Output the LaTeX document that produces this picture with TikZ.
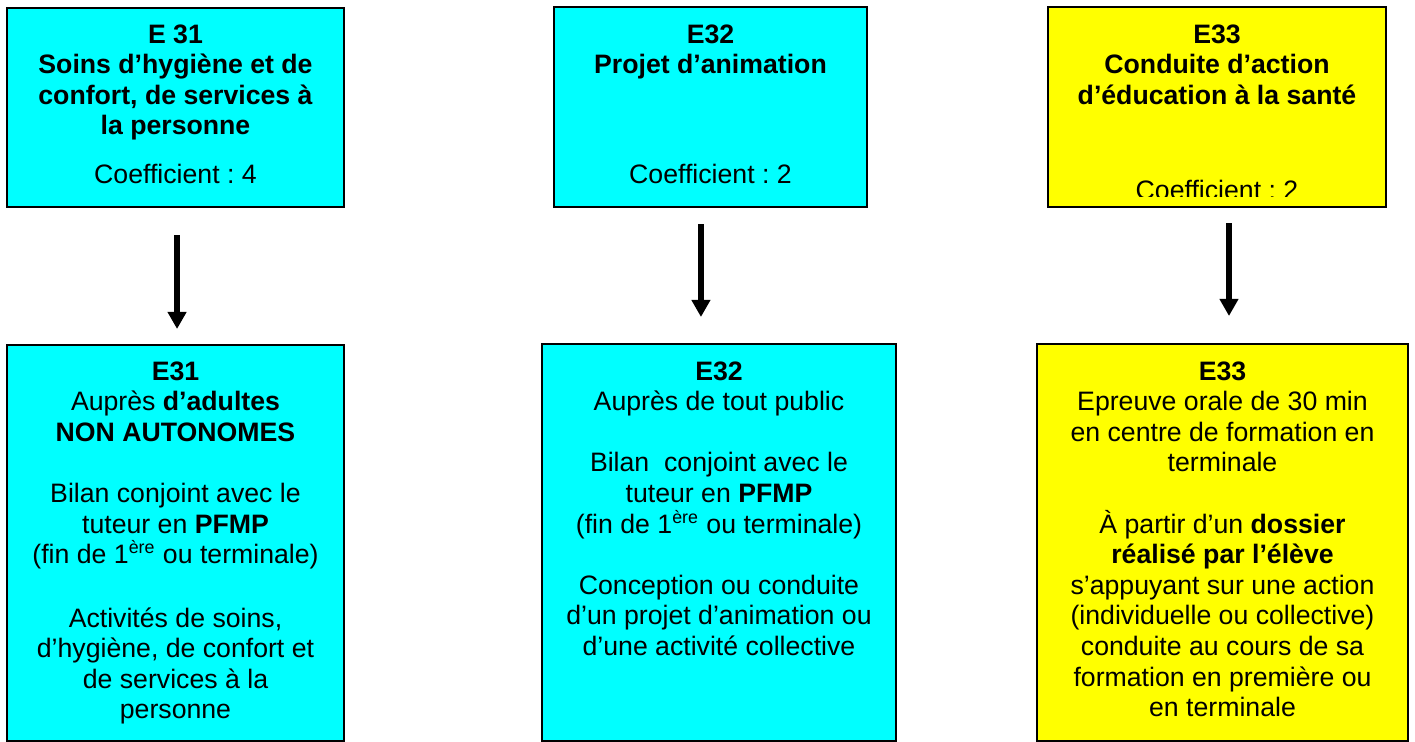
\documentclass[tikz,border=0pt]{standalone}
\usepackage{fontspec}
\setmainfont{Liberation Sans}
\usetikzlibrary{arrows.meta}
\definecolor{cy}{HTML}{00FFFF}
\definecolor{ye}{HTML}{FFFF00}
\frenchspacing
\newcommand{\cadre}[6]{
\node[cadre,fill=#6,minimum width={(#4-#2)*0.45pt},minimum height={(#5-#3)*0.45pt}] (#1) at ({(#2+#4)/2},{(#3+#5)/2}) {};
}
\newcommand{\vide}{\\[13.77pt]}

\begin{document}
\begin{tikzpicture}[x=0.45pt,y=-0.45pt,
cadre/.style={draw=black,line width=0.9pt,inner sep=0pt},
texte/.style={align=center,inner sep=0pt,anchor=base,font=\fontsize{12}{13.77}\selectfont},
bloc/.style={texte,anchor=north},
titre/.style={bloc,font=\fontsize{12}{13.77}\selectfont\bfseries},
fleche/.style={line width=2.7pt,-{Triangle[width=8.1pt,length=7.7pt]}}]
\useasboundingbox (0,0) rectangle (1415,742);
\cadre{t1}{7}{8}{344}{207}{cy};
\cadre{t2}{554}{7}{867}{207}{cy};
\cadre{t3}{1048}{7}{1386}{207}{ye};
\cadre{b1}{7}{345}{344}{741}{cy};
\cadre{b2}{542}{344}{896}{741}{cy};
\cadre{b3}{1037}{344}{1408}{741}{ye};
\node[titre] (e31) at (175.5,24) {E 31\\Soins d’hygiène et de\\confort, de services à\\la personne};
\node[texte] (c31) at (175.5,183) {Coefficient : 4};
\node[titre] (e32) at (710.5,24) {E32\\Projet d’animation};
\node[texte] (c32) at (710.5,183) {Coefficient : 2};
\node[titre] (e33) at (1217,24) {E33\\Conduite d’action\\d’éducation à la santé};
\begin{scope}
\clip (t3.north west) rectangle (1386,196);
\node[texte] (c33) at (1217,199) {Coefficient : 2};
\end{scope}
\node[bloc] (d31) at (175.5,361) {\textbf{E31}\\Auprès \textbf{d’adultes}\\\textbf{NON AUTONOMES}\vide
Bilan conjoint avec le\\tuteur en \textbf{PFMP}\\(fin de 1\textsuperscript{ère} ou terminale)\\[14.8pt]
Activités de soins,\\d’hygiène, de confort et\\de services à la\\personne};
\node[bloc] (d32) at (719,361) {\textbf{E32}\\Auprès de tout public\vide
Bilan\ \ conjoint avec le\\tuteur en \textbf{PFMP}\\(fin de 1\textsuperscript{ère} ou terminale)\vide
Conception ou conduite\\d’un projet d’animation ou\\d’une activité collective};
\node[bloc] (d33) at (1222.5,361) {\textbf{E33}\\Epreuve orale de 30 min\\en centre de formation en\\terminale\vide
À partir d’un \textbf{dossier}\\\textbf{réalisé par l’élève}\\s’appuyant sur une action\\(individuelle ou collective)\\conduite au cours de sa\\formation en première ou\\en terminale};
\draw[fleche,shorten <=12.15pt,shorten >=6.75pt] ([xshift=0.7pt]t1.south) -- ([xshift=0.7pt]t1.south |- b1.north);
\draw[fleche,shorten <=7.2pt,shorten >=11.7pt] ([xshift=-4.3pt]t2.south) -- ([xshift=-4.3pt]t2.south |- b2.north);
\draw[fleche,shorten <=6.75pt,shorten >=12.15pt] ([xshift=5.4pt]t3.south) -- ([xshift=5.4pt]t3.south |- b3.north);
\end{tikzpicture}
\end{document}
